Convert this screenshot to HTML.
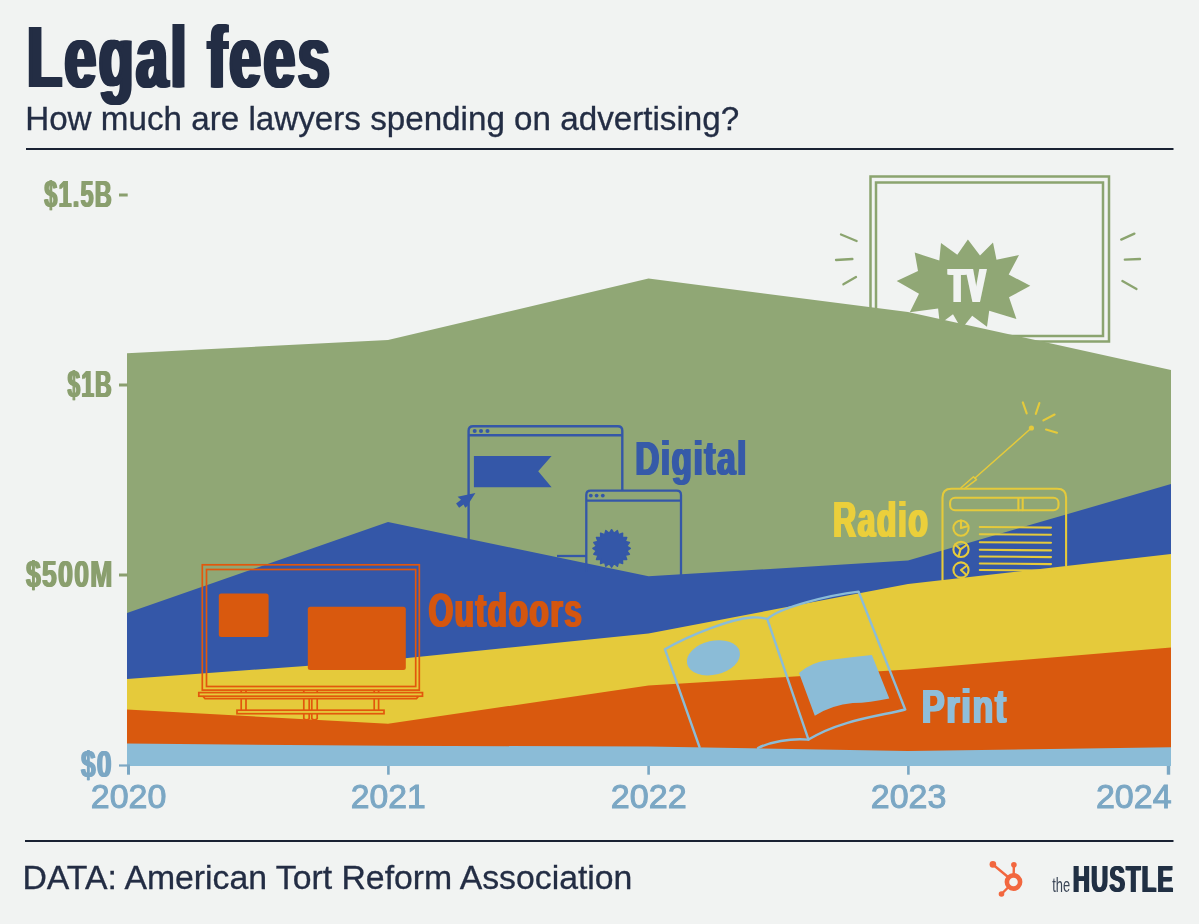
<!DOCTYPE html>
<html lang="en"><head><meta charset="utf-8"><title>Legal fees</title>
<style>html,body{margin:0;padding:0;background:#f1f3f2;}svg{display:block}text{white-space:pre}</style></head>
<body>
<svg width="1199" height="924" viewBox="0 0 1199 924" role="img" aria-label="Legal fees: how much are lawyers spending on advertising?">
<rect width="1199" height="924" fill="#f1f3f2"/>
<g fill="#232d44" transform="translate(27.24,87.3) scale(0.6531,1)"><text id="t_title" font-family="Liberation Sans, sans-serif" font-size="86.63" font-weight="bold" letter-spacing="0.05em" style="font-kerning:none">Legal fees</text><use href="#t_title" x="-3.37"/><use href="#t_title" x="3.37"/><use href="#t_title" x="-1.68"/><use href="#t_title" x="1.68"/></g>
<g fill="#232d44" stroke="#232d44" stroke-width="0.3" transform="translate(25.19,129.8) scale(1.0186,1)"><text id="t_sub" font-family="Liberation Sans, sans-serif" font-size="32.6" font-weight="normal">How much are lawyers spending on advertising?</text></g>
<rect x="26" y="148" width="1147.5" height="2" fill="#1a2233"/>
<rect x="25" y="840" width="1148.5" height="2" fill="#1a2233"/>
<g fill="none" stroke="#8ba46f" stroke-width="2.5"><rect x="870.5" y="176.5" width="238.5" height="165"/><rect x="876" y="182.5" width="227" height="153.5"/></g>
<line x1="841" y1="234.5" x2="856.6" y2="241" stroke="#8ba46f" stroke-width="2.3" stroke-linecap="round"/>
<line x1="836" y1="260" x2="852.4" y2="259" stroke="#8ba46f" stroke-width="2.3" stroke-linecap="round"/>
<line x1="843.4" y1="284.3" x2="856" y2="277" stroke="#8ba46f" stroke-width="2.3" stroke-linecap="round"/>
<line x1="1121.2" y1="239.6" x2="1134.4" y2="233.6" stroke="#8ba46f" stroke-width="2.3" stroke-linecap="round"/>
<line x1="1124.8" y1="259.7" x2="1140" y2="259" stroke="#8ba46f" stroke-width="2.3" stroke-linecap="round"/>
<line x1="1122.4" y1="281" x2="1136.5" y2="289" stroke="#8ba46f" stroke-width="2.3" stroke-linecap="round"/>
<polygon points="127,766 127,353.3 388,340 648.5,278.6 908,312 1171,370 1171,766" fill="#90a775"/>
<polygon points="896.7,281 918,271.1 914.7,252.6 939.3,260.4 941,243.1 957.3,254.8 967.9,239.6 980,255.5 993,242.4 996.5,259.7 1019,255 1008.7,274.6 1030.3,285.7 1009,297.3 1016.4,318.9 989.2,310.8 987,326.8 972.2,315.7 961.5,329 953,314.3 939.8,324 938.1,308.4 909.8,312.2 919,293.8" fill="#90a775"/>
<g fill="#f1f3f2" transform="translate(948.72,302) scale(0.5711,1)"><text id="t_tv" font-family="Liberation Sans, sans-serif" font-size="48.26" font-weight="bold" letter-spacing="0.05em" style="font-kerning:none">TV</text><use href="#t_tv" x="-2.98"/><use href="#t_tv" x="2.98"/><use href="#t_tv" x="-1.49"/><use href="#t_tv" x="1.49"/></g>
<g fill="none" stroke="#3457a8" stroke-width="2.4" stroke-linejoin="round"><path d="M468.6,545 V430.7 q0,-4.5 4.5,-4.5 H617.8 q4.5,0 4.5,4.5 V491"/><line x1="468.6" y1="435.2" x2="622.3" y2="435.2"/></g><g fill="#3457a8"><circle cx="474.7" cy="431" r="2"/><circle cx="481" cy="431" r="2"/><circle cx="487.5" cy="431" r="2"/><polygon points="473.9,456 551.6,456 538.2,471.3 551.6,487.3 473.9,487.3"/><polygon points="475.4,493.1 457.6,496.7 461,499.7 456.1,503.5 459.1,507.7 463.6,504.6 465.2,507.8 467.5,506 470.1,501.2"/></g>
<polygon points="127,766 127,613 388,522 648.5,576.3 908,560.5 1171,484 1171,766" fill="#3457a8"/>
<g fill="none" stroke="#3457a8" stroke-width="2.3" stroke-linejoin="round"><path d="M586.3,572 V495 q0,-4.3 4.3,-4.3 H676.7 q4.3,0 4.3,4.3 V576"/><line x1="586.3" y1="500.6" x2="681" y2="500.6"/><path d="M557,556 H586.3"/></g><g fill="#3457a8"><circle cx="590.8" cy="495.6" r="1.9"/><circle cx="596.6" cy="495.6" r="1.9"/><circle cx="602.8" cy="495.6" r="1.9"/><polygon points="630.3,548.4 626.7,550.8 629.4,554.2 625.2,555.3 626.7,559.4 622.4,559.2 622.6,563.5 618.5,562.0 617.4,566.2 614.0,563.5 611.6,567.1 609.2,563.5 605.8,566.2 604.7,562.0 600.6,563.5 600.8,559.2 596.5,559.4 598.0,555.3 593.8,554.2 596.5,550.8 592.9,548.4 596.5,546.0 593.8,542.6 598.0,541.5 596.5,537.4 600.8,537.6 600.6,533.3 604.7,534.8 605.8,530.6 609.2,533.3 611.6,529.7 614.0,533.3 617.4,530.6 618.5,534.8 622.6,533.3 622.4,537.6 626.7,537.4 625.2,541.5 629.4,542.6 626.7,546.0" stroke="#3457a8" stroke-width="1.5" stroke-linejoin="round"/></g>
<g fill="#365aa8" transform="translate(635.28,474.8) scale(0.6781,1)"><text id="t_dig" font-family="Liberation Sans, sans-serif" font-size="48.84" font-weight="bold" letter-spacing="0.05em" style="font-kerning:none">Digital</text><use href="#t_dig" x="-1.62"/><use href="#t_dig" x="1.62"/></g>
<polygon points="127,766 127,679 388,660 648.5,633.4 908,584 1171,554 1171,766" fill="#e5ca3b"/>
<polygon points="127,766 127,709.4 388,723.8 648.5,685.5 908,669.5 1171,647.5 1171,766" fill="#d9590e"/>
<polygon points="127,766 127,743.6 388,745.8 648.5,746.5 908,751 1171,747.3 1171,766" fill="#8bbcd7"/>
<g fill="none" stroke="#e2570c" stroke-width="1.7"><rect x="202.3" y="564.8" width="217" height="125.3"/><rect x="206.5" y="569.5" width="209.2" height="117"/><rect x="198.8" y="692.6" width="223.7" height="3.6"/><path d="M203,696.2 l2,2.4 H416.5 l2,-2.4"/><rect x="237" y="710.2" width="147" height="3.5"/><path d="M241.2,698.6 V710.2 M241.2,690.1 V692.6"/><path d="M246,698.6 V710.2 M246,690.1 V692.6"/><path d="M374.2,698.6 V710.2 M374.2,690.1 V692.6"/><path d="M378.6,698.6 V710.2 M378.6,690.1 V692.6"/><path d="M303.8,698.6 V710.2 M303.8,713.7 V719"/><path d="M309.2,698.6 V710.2 M309.2,713.7 V719"/><path d="M311.8,698.6 V710.2 M311.8,713.7 V719"/><path d="M317.2,698.6 V710.2 M317.2,713.7 V719"/><path d="M303.8,690.1 V692.6 M317.2,690.1 V692.6 M303.8,719 Q306.5,720.5 309.2,719 M311.8,719 Q314.5,720.5 317.2,719"/></g><g fill="#d9590e"><rect x="218.8" y="593.4" width="49.8" height="43.6" rx="2.5"/><rect x="307.8" y="606.7" width="98" height="63.2" rx="2.5"/></g>
<g fill="#d4560f" transform="translate(428.54,627.2) scale(0.6473,1)"><text id="t_out" font-family="Liberation Sans, sans-serif" font-size="48.84" font-weight="bold" letter-spacing="0.05em" style="font-kerning:none">Outdoors</text><use href="#t_out" x="-1.70"/><use href="#t_out" x="1.70"/></g>
<g fill="none" stroke="#e5ca3b" stroke-width="2.1" stroke-linecap="round" stroke-linejoin="round"><path d="M942.5,580 V497.5 q0,-8.8 8.8,-8.8 H1057.3 q8.8,0 8.8,8.8 V565.5"/><rect x="950.1" y="497.8" width="108.4" height="12.5" rx="5"/><path d="M1018.4,498 V510.2 M1022.7,498 V510.2"/><circle cx="961" cy="528.1" r="7.6"/><circle cx="961" cy="549.4" r="7.6"/><circle cx="961" cy="570" r="7.6"/><path d="M961,528.1 V520.5 M961,528.1 L968.3,526"/><path d="M960.5,549.4 L955,544.5 M960.5,549.4 L966.5,545 M960.5,549.4 L958.5,556.5"/><path d="M961,570 L967,565.5 M961,570 L966.5,575"/><line x1="979.8" y1="527" x2="1051" y2="527.6"/><line x1="979.8" y1="534.2" x2="1051" y2="534.8000000000001"/><line x1="979.8" y1="542.2" x2="1051" y2="542.8000000000001"/><line x1="979.8" y1="549.8" x2="1051" y2="550.4"/><line x1="979.8" y1="556.5" x2="1051" y2="557.1"/><line x1="979.8" y1="563.5" x2="1051" y2="564.1"/><line x1="979.8" y1="570" x2="1051" y2="570.6"/><path d="M961,487.8 L973.5,476.8 L976.5,479.6 L964.5,488.6" stroke-width="1.5"/><line x1="975" y1="478" x2="1031.4" y2="428" stroke-width="1.5"/><line x1="1022.8" y1="402.4" x2="1026.7" y2="413.4"/><line x1="1039.4" y1="403" x2="1035.8" y2="413.9"/><line x1="1043.4" y1="420.4" x2="1054.6" y2="414.5"/><line x1="1046" y1="429.5" x2="1057" y2="432.7"/></g><circle cx="1031.4" cy="428" r="2.6" fill="#e5ca3b"/>
<g fill="#ebcf3b" transform="translate(833.07,536.9) scale(0.6482,1)"><text id="t_rad" font-family="Liberation Sans, sans-serif" font-size="49.13" font-weight="bold" letter-spacing="0.05em" style="font-kerning:none">Radio</text><use href="#t_rad" x="-1.70"/><use href="#t_rad" x="1.70"/></g>
<g fill="none" stroke="#8bbcd7" stroke-width="2.4" stroke-linecap="round" stroke-linejoin="round"><path d="M699.5,747 L664.9,649.2 C690,635 730,619 751.4,617.5 Q761,617 767.3,619.1 L808.5,739.6"/><path d="M767.3,619.1 C780,607 830,595 858.6,591.6 L905.2,709.5 C880,716 840,720 808.5,739.6 C790,738 770,742 758,748"/></g><g fill="#8bbcd7"><ellipse cx="713.4" cy="657.8" rx="27" ry="17" transform="rotate(-13 713.4 657.8)"/><path d="M799,673 Q812,662 827.5,660.3 Q850,657 871.9,654.9 L889.3,698.4 Q870,702.5 852.9,703.1 Q832,705 814.8,715.8 Z"/></g>
<g fill="#8fbed9" transform="translate(921.91,722.7) scale(0.6979,1)"><text id="t_prn" font-family="Liberation Sans, sans-serif" font-size="48.84" font-weight="bold" letter-spacing="0.05em" style="font-kerning:none">Print</text><use href="#t_prn" x="-1.58"/><use href="#t_prn" x="1.58"/></g>
<g fill="#8a9f6e" transform="translate(44.23,206.6) scale(0.6426,1)"><text id="t_y15" font-family="Liberation Sans, sans-serif" font-size="36.63" font-weight="bold" letter-spacing="0.05em" style="font-kerning:none">$1.5B</text><use href="#t_y15" x="-1.25"/><use href="#t_y15" x="1.25"/></g>
<g fill="#8a9f6e" transform="translate(67.54,396.6) scale(0.6220,1)"><text id="t_y10" font-family="Liberation Sans, sans-serif" font-size="36.63" font-weight="bold" letter-spacing="0.05em" style="font-kerning:none">$1B</text><use href="#t_y10" x="-1.29"/><use href="#t_y10" x="1.29"/></g>
<g fill="#8a9f6e" transform="translate(25.97,586.6) scale(0.7243,1)"><text id="t_y05" font-family="Liberation Sans, sans-serif" font-size="36.63" font-weight="bold" letter-spacing="0.05em" style="font-kerning:none">$500M</text><use href="#t_y05" x="-1.10"/><use href="#t_y05" x="1.10"/></g>
<g fill="#7ba7c4" transform="translate(80.98,776.6) scale(0.7148,1)"><text id="t_y00" font-family="Liberation Sans, sans-serif" font-size="36.63" font-weight="bold" letter-spacing="0.05em" style="font-kerning:none">$0</text><use href="#t_y00" x="-1.12"/><use href="#t_y00" x="1.12"/></g>
<rect x="119" y="193.5" width="8.7" height="3" fill="#8a9f6e"/>
<rect x="119" y="383.5" width="8.7" height="3" fill="#8a9f6e"/>
<rect x="119" y="573.5" width="8.7" height="3" fill="#8a9f6e"/>
<rect x="119" y="764.4" width="11" height="2.2" fill="#7ba7c4"/>
<rect x="127" y="766" width="3" height="8.7" fill="#7ba7c4"/>
<rect x="387.09999999999997" y="766" width="2.6" height="8.7" fill="#7ba7c4"/>
<rect x="647.3000000000001" y="766" width="2.6" height="8.7" fill="#7ba7c4"/>
<rect x="907.1" y="766" width="2.6" height="8.7" fill="#7ba7c4"/>
<rect x="1166.8" y="766" width="3.4" height="8.7" fill="#7ba7c4"/>
<g fill="#7ba7c4" stroke="#7ba7c4" stroke-width="1.0" transform="translate(90.80,807.8) scale(0.9997,1)"><text id="t_2020" font-family="Liberation Sans, sans-serif" font-size="34" font-weight="normal">2020</text></g>
<g fill="#7ba7c4" stroke="#7ba7c4" stroke-width="1.0" transform="translate(350.81,807.8) scale(0.9920,1)"><text id="t_2021" font-family="Liberation Sans, sans-serif" font-size="34" font-weight="normal">2021</text></g>
<g fill="#7ba7c4" stroke="#7ba7c4" stroke-width="1.0" transform="translate(610.79,807.8) scale(1.0044,1)"><text id="t_2022" font-family="Liberation Sans, sans-serif" font-size="34" font-weight="normal">2022</text></g>
<g fill="#7ba7c4" stroke="#7ba7c4" stroke-width="1.0" transform="translate(870.80,807.8) scale(0.9997,1)"><text id="t_2023" font-family="Liberation Sans, sans-serif" font-size="34" font-weight="normal">2023</text></g>
<g fill="#7ba7c4" stroke="#7ba7c4" stroke-width="1.0" transform="translate(1095.90,807.8) scale(1.0005,1)"><text id="t_2024" font-family="Liberation Sans, sans-serif" font-size="34" font-weight="normal">2024</text></g>
<g fill="#232d44" stroke="#232d44" stroke-width="0.3" transform="translate(22.45,889) scale(1.0115,1)"><text id="t_data" font-family="Liberation Sans, sans-serif" font-size="33.4" font-weight="normal">DATA: American Tort Reform Association</text></g>
<g stroke="#f2673f" fill="none" stroke-linecap="round"><circle cx="1013.5" cy="882" r="6.6" stroke-width="4.6"/><line x1="993.5" y1="865" x2="1008" y2="877" stroke-width="2.4"/><line x1="1013.9" y1="865" x2="1013.7" y2="874" stroke-width="2.4"/><line x1="1002" y1="893.5" x2="1008" y2="887.5" stroke-width="2.4"/></g>
<g fill="#f2673f"><circle cx="992.9" cy="864.4" r="3.3"/><circle cx="1013.9" cy="864.8" r="2.8"/><circle cx="1001.5" cy="894" r="2.8"/></g>
<g fill="#3a4556" transform="translate(1052.24,892) scale(0.6632,1)"><text id="t_the" font-family="Liberation Sans, sans-serif" font-size="19.5" font-weight="normal">the</text></g>
<g fill="#213044" transform="translate(1072.95,892) scale(0.6430,1)"><text id="t_hus" font-family="Liberation Sans, sans-serif" font-size="36.63" font-weight="bold" letter-spacing="0.05em" style="font-kerning:none">HUSTLE</text><use href="#t_hus" x="-1.40"/><use href="#t_hus" x="1.40"/></g>
</svg>
</body></html>
